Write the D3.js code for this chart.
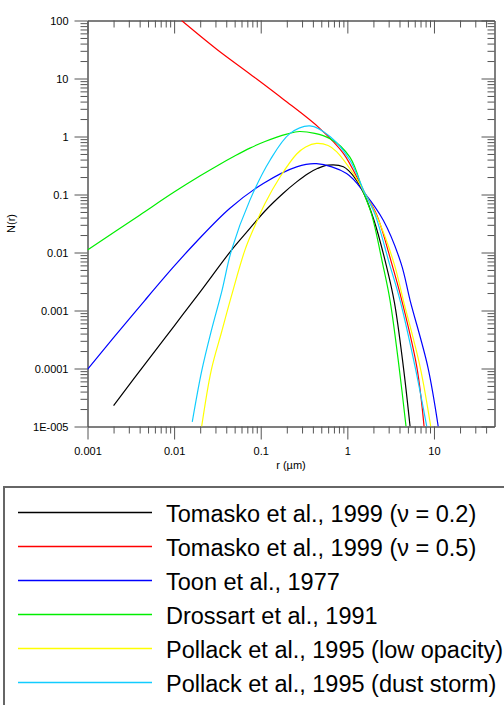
<!DOCTYPE html>
<html>
<head>
<meta charset="utf-8">
<script src="https://cdn.jsdelivr.net/npm/d3@7"></script>
<style>
    body { margin: 0; background: #fff; }
    svg { display: block; }
    text { font-family: Arial, "Liberation Sans", sans-serif; }
</style>
</head>
<body>
<div id="chart"></div>
<script>
// size distributions N(r) as [r (um), N]
const tomasko02 = [
    [0.002, 2.3e-5], [0.005, 1.4e-4], [0.01, 5.4e-4], [0.02, 2.1e-3], [0.046, 0.011],
    [0.075, 0.026], [0.112, 0.052], [0.182, 0.105], [0.26, 0.165], [0.35, 0.228],
    [0.45, 0.28], [0.6, 0.32], [0.9, 0.30], [1.2, 0.2], [1.55, 0.104], [2.03, 0.036],
    [2.8, 0.0062], [3.49, 0.0014], [4.43, 1.08e-4], [5.3, 1e-5]
];
const tomasko05 = [
    [0.0122, 100], [0.031, 32], [0.075, 12], [0.182, 4.4], [0.483, 1.37],
    [0.9, 0.51], [1.4, 0.155], [1.6, 0.104], [2.18, 0.045], [3.25, 0.0065],
    [4.25, 0.0015], [6.33, 1.08e-4], [7.69, 1e-5]
];
const toon1977 = [
    [0.001, 9.7e-5], [0.002, 3.4e-4], [0.0046, 0.0015], [0.01, 0.0058], [0.0182, 0.0155],
    [0.0441, 0.058], [0.107, 0.155], [0.26, 0.30], [0.44, 0.34], [0.98, 0.23],
    [1.6, 0.104], [2.6, 0.036], [4.17, 0.0065], [5.3, 0.0015], [8.48, 1.08e-4], [11.2, 1e-5]
];
const drossart1991 = [
    [0.001, 0.011], [0.004, 0.044], [0.01, 0.11], [0.02, 0.21], [0.0323, 0.32],
    [0.05, 0.46], [0.075, 0.63], [0.112, 0.82], [0.2, 1.1], [0.284, 1.22],
    [0.63, 0.92], [1.07, 0.44], [1.53, 0.11], [1.91, 0.045], [2.55, 0.0065],
    [3.11, 0.0015], [3.95, 1.08e-4], [4.76, 1e-5]
];
const pollackLow = [
    [0.0208, 1.0e-5], [0.0269, 9.5e-5], [0.0354, 4.3e-4], [0.046, 1.8e-3], [0.0657, 0.011],
    [0.0857, 0.029], [0.112, 0.07], [0.167, 0.2], [0.26, 0.5], [0.33, 0.66],
    [0.44, 0.76], [0.6, 0.7], [0.75, 0.55], [1.17, 0.23], [1.6, 0.104], [2.22, 0.04],
    [3.46, 0.0065], [4.43, 0.0015], [6.91, 1.08e-4], [9.18, 1e-5]
];
const pollackDust = [
    [0.0162, 1.2e-5], [0.0208, 9.0e-5], [0.0269, 4.5e-4], [0.0354, 2.1e-3], [0.046, 0.011],
    [0.075, 0.080], [0.128, 0.39], [0.217, 1.12], [0.37, 1.52], [0.63, 1.0],
    [1.07, 0.39], [1.6, 0.104], [2.09, 0.045], [3.05, 0.0065], [4.06, 0.0015],
    [6.05, 1.08e-4], [8.26, 1e-5]
];

const seriesLabels = [
    "Tomasko et al., 1999 (\u03bd = 0.2)",
    "Tomasko et al., 1999 (\u03bd = 0.5)",
    "Toon et al., 1977",
    "Drossart et al., 1991",
    "Pollack et al., 1995 (low opacity)",
    "Pollack et al., 1995 (dust storm)"
];
const seriesData = [tomasko02, tomasko05, toon1977, drossart1991, pollackLow, pollackDust];
const seriesColors = ["#000000", "#ff0000", "#0000ff", "#00ee00", "#ffff00", "#11ccff"];

const xMajor = [0.001, 0.01, 0.1, 1, 10];
const xTickLabels = ["0.001", "0.01", "0.1", "1", "10"];
const yMajor = [100, 10, 1, 0.1, 0.01, 0.001, 0.0001, 0.00001];
const yTickLabels = ["100", "10", "1", "0.1", "0.01", "0.001", "0.0001", "1E-005"];

const width = 504, height = 705;
const plotLeft = 87.5, plotRight = 494.5, plotTop = 20.5, plotBottom = 426.5;
const axisColor = "#555";

const svg = d3.select("#chart")
    .append("svg")
    .attr("width", width)
    .attr("height", height);

const x = d3.scaleLog().domain([0.001, 50]).range([plotLeft, plotRight]);
const y = d3.scaleLog().domain([1e-5, 100]).range([plotBottom, plotTop]);

// 2..9 within each decade, for the small ticks
function minorTicks(domain) {
    const out = [];
    const lo = Math.floor(Math.log10(domain[0]));
    const hi = Math.ceil(Math.log10(domain[1]));
    for (let p = lo; p < hi; p++) {
        for (let k = 2; k < 10; k++) {
            const v = +(k * Math.pow(10, p)).toPrecision(3);
            if (v > domain[0] && v < domain[1]) out.push(v);
        }
    }
    return out;
}

function styleAxis(g) {
    g.attr("font-size", 11).attr("font-family", "Arial, 'Liberation Sans', sans-serif");
    g.selectAll("line, path").attr("stroke", axisColor);
    g.selectAll("text").attr("fill", "#000");
}

// bottom + left: ticks outward, with labels
svg.append("g")
    .attr("transform", `translate(0,${plotBottom})`)
    .call(d3.axisBottom(x).tickValues(xMajor).tickFormat((d, i) => xTickLabels[i])
        .tickSize(13).tickSizeOuter(0).tickPadding(8))
    .call(styleAxis);
svg.append("g")
    .attr("transform", `translate(0,${plotBottom})`)
    .call(d3.axisBottom(x).tickValues(minorTicks(x.domain())).tickFormat("")
        .tickSize(7).tickSizeOuter(0))
    .call(styleAxis);

svg.append("g")
    .attr("transform", `translate(${plotLeft},0)`)
    .call(d3.axisLeft(y).tickValues(yMajor).tickFormat((d, i) => yTickLabels[i])
        .tickSize(13).tickSizeOuter(0).tickPadding(6))
    .call(styleAxis);
svg.append("g")
    .attr("transform", `translate(${plotLeft},0)`)
    .call(d3.axisLeft(y).tickValues(minorTicks(y.domain())).tickFormat("")
        .tickSize(7).tickSizeOuter(0))
    .call(styleAxis);

// top + right: ticks inward, no labels
svg.append("g")
    .attr("transform", `translate(0,${plotTop})`)
    .call(d3.axisTop(x).tickValues(xMajor).tickFormat("").tickSize(-13).tickSizeOuter(0))
    .call(styleAxis);
svg.append("g")
    .attr("transform", `translate(0,${plotTop})`)
    .call(d3.axisTop(x).tickValues(minorTicks(x.domain())).tickFormat("").tickSize(-7).tickSizeOuter(0))
    .call(styleAxis);
svg.append("g")
    .attr("transform", `translate(${plotRight},0)`)
    .call(d3.axisRight(y).tickValues(yMajor).tickFormat("").tickSize(-13).tickSizeOuter(0))
    .call(styleAxis);
svg.append("g")
    .attr("transform", `translate(${plotRight},0)`)
    .call(d3.axisRight(y).tickValues(minorTicks(y.domain())).tickFormat("").tickSize(-7).tickSizeOuter(0))
    .call(styleAxis);

// axis titles
svg.append("text")
    .attr("x", (plotLeft + plotRight) / 2)
    .attr("y", 469)
    .attr("text-anchor", "middle")
    .attr("font-size", 11)
    .text("r (\u00b5m)");
svg.append("text")
    .attr("transform", `translate(15,${(plotTop + plotBottom) / 2}) rotate(-90)`)
    .attr("text-anchor", "middle")
    .attr("font-size", 11)
    .text("N(r)");

// curves, clipped to the plot frame
svg.append("clipPath")
    .attr("id", "plot-clip")
    .append("rect")
    .attr("x", plotLeft)
    .attr("y", plotTop)
    .attr("width", plotRight - plotLeft)
    .attr("height", plotBottom - plotTop);

const line = d3.line()
    .x(d => x(d[0]))
    .y(d => y(d[1]))
    .curve(d3.curveCatmullRom.alpha(0.5));

svg.append("g")
    .attr("clip-path", "url(#plot-clip)")
    .selectAll("path")
    .data(seriesData)
    .join("path")
    .attr("d", line)
    .attr("fill", "none")
    .attr("stroke", (d, i) => seriesColors[i])
    .attr("stroke-width", 1.2);

// legend box below the plot
const legendY = d3.scalePoint().domain(seriesLabels).range([512.5, 682.5]);

svg.append("rect")
    .attr("x", 4)
    .attr("y", 487)
    .attr("width", 600)
    .attr("height", 300)
    .attr("fill", "none")
    .attr("stroke", "#666")
    .attr("stroke-width", 2);

const legendRow = svg.append("g")
    .selectAll("g")
    .data(seriesLabels)
    .join("g")
    .attr("transform", d => `translate(0,${legendY(d)})`);

legendRow.append("line")
    .attr("x1", 18)
    .attr("x2", 152)
    .attr("stroke", (d, i) => seriesColors[i])
    .attr("stroke-width", 1.5);

legendRow.append("text")
    .attr("x", 166)
    .attr("y", 9)
    .attr("font-size", 23.5)
    .attr("fill", "#000")
    .text(d => d);
</script>
</body>
</html>
